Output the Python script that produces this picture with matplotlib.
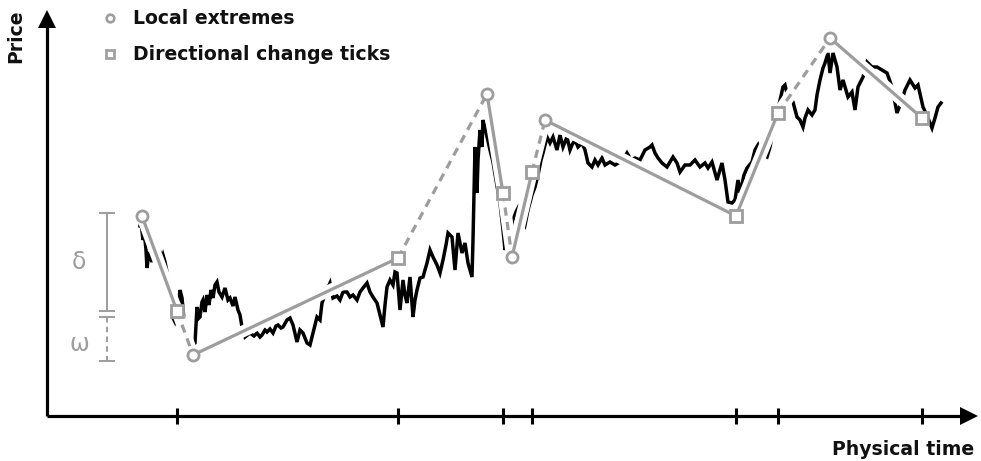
import matplotlib
matplotlib.use("Agg")
import matplotlib.pyplot as plt

plt.rcParams['lines.scale_dashes'] = False

# ---- data (time units, price level measured downward from top of the frame) ----
time = [140, 141, 143, 144, 146, 147, 149, 150, 152, 153,
        156, 158, 160, 162, 163, 165, 167, 169, 171, 173,
        175, 177, 179, 180, 182, 184, 186, 188, 190, 192,
        194, 195, 197, 199, 200, 202, 203, 205, 207, 209,
        211, 213, 215, 217, 219, 222, 225, 228, 230, 233,
        235, 238, 240, 242, 245, 250, 254, 257, 260, 262,
        265, 267, 270, 273, 276, 278, 281, 283, 287, 290,
        293, 297, 300, 303, 307, 310, 313, 317, 320, 322,
        326, 330, 333, 337, 340, 343, 347, 350, 353, 357,
        360, 363, 367, 370, 373, 377, 380, 383, 385, 387,
        390, 393, 395, 397, 400, 403, 405, 407, 410, 413,
        415, 417, 420, 423, 427, 430, 433, 437, 440, 443,
        446, 448, 452, 455, 458, 462, 465, 468, 472, 473,
        475, 477, 478, 480, 482, 483, 485, 487, 490, 493,
        496, 500, 503, 505, 507, 510, 513, 516, 518, 521,
        525, 528, 532, 535, 538, 541, 543, 545, 547, 550,
        553, 557, 560, 563, 567, 570, 572, 575, 578, 582,
        585, 588, 592, 595, 598, 602, 605, 610, 615, 620,
        624, 627, 631, 635, 640, 645, 650, 652, 655, 658,
        662, 667, 670, 673, 677, 680, 685, 690, 695, 700,
        705, 708, 712, 717, 720, 722, 725, 728, 732, 735,
        738, 740, 744, 747, 752, 755, 758, 762, 767, 770,
        773, 776, 780, 783, 785, 787, 790, 793, 797, 800,
        803, 805, 808, 812, 815, 817, 820, 823, 825, 828,
        830, 833, 837, 840, 843, 848, 852, 855, 858, 863,
        867, 872, 877, 882, 887, 892, 897, 902, 905, 910,
        915, 918, 923, 928, 932, 935, 938, 941]
price = [226, 222, 240, 230, 250, 268, 252, 255, 262, 258,
         254, 250, 252, 258, 255, 262, 272, 285, 300, 318,
         322, 316, 300, 290, 298, 320, 333, 338, 344, 348,
         344, 343, 307, 318, 317, 302, 300, 312, 295, 305,
         290, 298, 285, 282, 292, 297, 288, 300, 298, 306,
         297, 310, 315, 327, 337, 333, 336, 333, 337, 335,
         330, 332, 329, 333, 326, 325, 328, 327, 320, 318,
         325, 342, 330, 333, 343, 345, 333, 317, 320, 303,
         292, 283, 298, 296, 300, 292, 292, 297, 295, 300,
         292, 288, 283, 292, 297, 303, 315, 327, 305, 287,
         280, 285, 272, 273, 310, 280, 295, 303, 277, 317,
         300, 290, 278, 277, 263, 250, 257, 265, 273, 260,
         245, 233, 237, 270, 233, 253, 243, 263, 277, 240,
         147, 193, 160, 130, 147, 120, 128, 137, 150, 162,
         180, 203, 230, 250, 240, 232, 220, 212, 208, 218,
         225, 210, 195, 187, 175, 160, 153, 145, 137, 143,
         137, 150, 135, 147, 137, 150, 145, 140, 147, 143,
         150, 163, 167, 160, 165, 158, 165, 162, 165, 162,
         158, 153, 160, 158, 160, 150, 147, 145, 153, 158,
         163, 167, 162, 157, 163, 172, 165, 165, 160, 167,
         163, 168, 162, 180, 170, 163, 180, 202, 203, 200,
         180, 193, 175, 168, 162, 150, 145, 155, 157, 147,
         130, 118, 100, 87, 85, 93, 97, 102, 117, 120,
         127, 118, 110, 115, 110, 95, 80, 68, 63, 53,
         73, 53, 67, 90, 80, 97, 92, 110, 87, 77,
         62, 67, 67, 70, 73, 87, 113, 100, 90, 80,
         88, 85, 107, 118, 128, 118, 107, 103]

zigzag_time = [142, 177, 193, 398, 487, 503, 512, 532, 545, 736, 778, 830, 922]
zigzag_price = [216, 311, 355, 258, 94, 193, 257, 172, 120, 216, 113, 38, 118]
zigzag_style = ['solid', 'dashed', 'solid', 'dashed', 'solid', 'dashed',
                'solid', 'dashed', 'solid', 'solid', 'dashed', 'solid']

extreme_time = [142, 193, 487, 512, 545, 830]
extreme_price = [216, 355, 94, 257, 120, 38]
dc_time = [177, 398, 503, 532, 736, 778, 922]
dc_price = [311, 258, 193, 172, 216, 113, 118]

legend_labels = ["Local extremes", "Directional change ticks"]

GRAY = "#9d9d9d"
FONT = "DejaVu Sans"
FS = 13.6

fig = plt.figure(figsize=(9.81, 4.61), dpi=100)
ax = fig.add_axes([0, 0, 1, 1])
ax.set_xlim(0, 981)
ax.set_ylim(461, 0)
ax.axis('off')

# price path
ax.plot(time, price, color='black', lw=2.5, zorder=2, solid_joinstyle='miter')

# zigzag with white halos
for i, st in enumerate(zigzag_style):
    xs = zigzag_time[i:i + 2]
    ys = zigzag_price[i:i + 2]
    ax.plot(xs, ys, color='white', lw=8.5, zorder=3, solid_capstyle='butt')
for i, st in enumerate(zigzag_style):
    xs = zigzag_time[i:i + 2]
    ys = zigzag_price[i:i + 2]
    if st == 'solid':
        ax.plot(xs, ys, color=GRAY, lw=2.3, zorder=4, solid_capstyle='butt')
    else:
        ax.plot(xs, ys, color=GRAY, lw=2.3, zorder=4, dashes=(6, 4.5),
                dash_capstyle='butt')

ax.plot(extreme_time, extreme_price, 'o', ms=8, mfc='white', mec=GRAY,
        mew=2.0, zorder=5, ls='none')
ax.plot(dc_time, dc_price, 's', ms=8.5, mfc='white', mec=GRAY,
        mew=2.0, zorder=5, ls='none')

# axes with arrows
ax.plot([47, 962], [416, 416], color='black', lw=2.3, zorder=6,
        solid_capstyle='butt')
ax.plot([47, 47], [416, 26], color='black', lw=2.3, zorder=6,
        solid_capstyle='butt')
ax.fill([960, 978, 960], [407, 416, 425], color='black', zorder=6, lw=0)
ax.fill([38, 47, 56], [28, 10, 28], color='black', zorder=6, lw=0)

# ticks at directional-change times
for t in dc_time:
    ax.plot([t, t], [408, 424], color='black', lw=2.2, zorder=6,
            solid_capstyle='butt')

# delta / omega bracket
ax.plot([107, 107], [213, 311], color=GRAY, lw=1.4, zorder=3)
ax.plot([107, 107], [317, 361], color=GRAY, lw=1.4, zorder=3, dashes=(4, 3))
for yy in (213, 311, 317, 361):
    ax.plot([100, 114], [yy, yy], color=GRAY, lw=1.4, zorder=3)
ax.text(79, 262, "δ", color=GRAY, fontsize=17, ha='center', va='center',
        family='DejaVu Sans')
ax.text(79, 344, "ω", color=GRAY, fontsize=17, ha='center', va='center',
        family='DejaVu Sans')

# legend
ax.plot([110], [18], 'o', ms=5.5, mfc='white', mec=GRAY, mew=1.9, zorder=5)
ax.plot([110], [54], 's', ms=6, mfc='white', mec=GRAY, mew=1.9, zorder=5)
ax.text(133, 18, legend_labels[0], fontsize=FS, ha='left', va='center',
        family=FONT, fontweight='bold', color='#111111')
ax.text(133, 54, legend_labels[1], fontsize=FS, ha='left', va='center',
        family=FONT, fontweight='bold', color='#111111')

# axis titles
ax.text(16, 36, "Price", rotation=90, fontsize=FS, ha='center',
        va='center', family=FONT, fontweight='bold', color='#111111')
ax.text(974, 449, "Physical time", fontsize=FS, ha='right', va='center',
        family=FONT, fontweight='bold', color='#111111')

fig.savefig("out.png", dpi=100)
